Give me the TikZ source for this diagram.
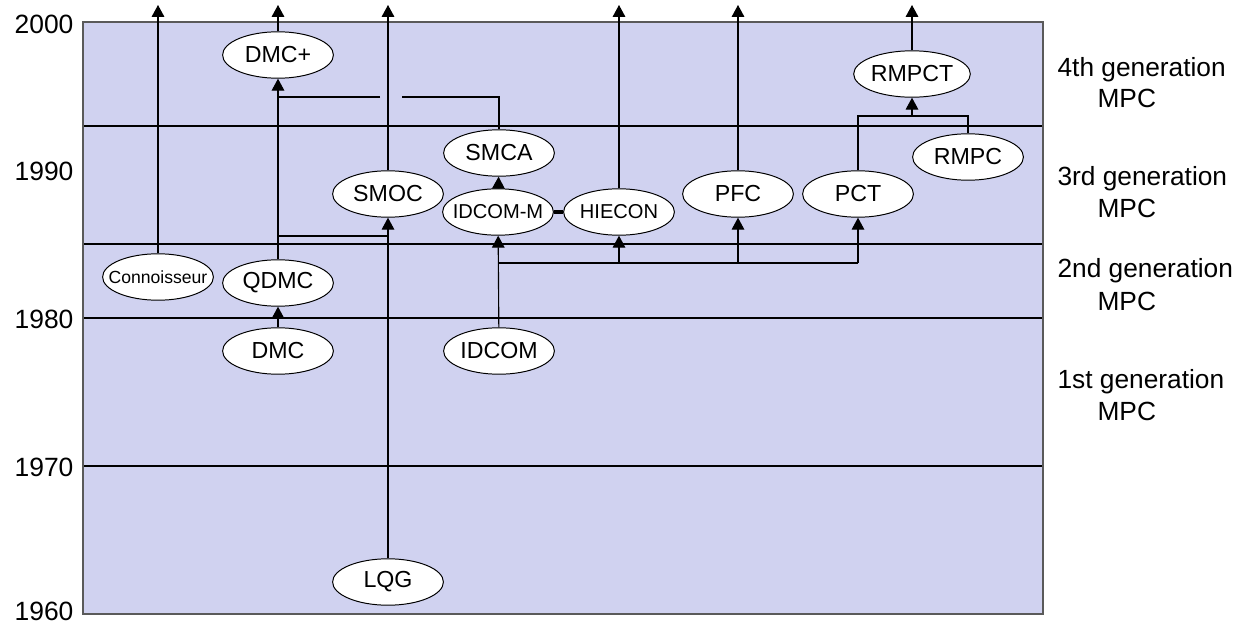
\documentclass[tikz,border=0pt]{standalone}
\usepackage{fontspec}
\setmainfont{Liberation Sans}
\usetikzlibrary{shapes.geometric,arrows.meta}

\definecolor{bandfill}{RGB}{208,210,240}
\definecolor{framegray}{RGB}{90,90,90}

\tikzset{
	algo/.style={ellipse,draw,fill=white,line width=0.7pt,inner sep=0pt,
		minimum width=2.77cm,minimum height=1.16cm,font=\fontsize{16.5}{18}\selectfont},
	smalltxt/.style={font=\fontsize{14.3}{16}\selectfont},
	uparrow/.style={-{Triangle[width=9pt,length=8.5pt]}},
	yearlbl/.style={anchor=base east,inner sep=0pt,font=\fontsize{18.8}{20}\selectfont},
	genlbl/.style={anchor=base west,inner sep=0pt,font=\fontsize{18.7}{20}\selectfont},
}
% keeps the ellipse at its minimum size for long labels
\newcommand{\narrow}[1]{\makebox[0pt]{#1}}

\begin{document}
\begin{tikzpicture}[x=0.025cm,y=-0.025cm,line width=0.8pt]
	\useasboundingbox (0,0) rectangle (1244,625);

	% time bands
	\fill[bandfill] (83,22) rectangle (1043,614);
	\foreach \yy in {126,244,318,466}
		\draw (83,\yy) -- (1043,\yy);
	\draw[framegray] (83,22) rectangle (1043,614);

	\foreach \yr/\yy in {2000/33,1990/180,1980/328,1970/476,1960/620}
		\node[yearlbl] (y\yr) at (74,\yy) {\yr};

	\node[genlbl] (g4) at (1057,76) {4th generation};
	\node[genlbl] (m4) at (1097,107) {MPC};
	\node[genlbl] (g3) at (1057,185) {3rd generation};
	\node[genlbl] (m3) at (1097,217) {MPC};
	\node[genlbl] (g2) at (1057,277) {2nd generation};
	\node[genlbl] (m2) at (1097,310) {MPC};
	\node[genlbl] (g1) at (1057,388) {1st generation};
	\node[genlbl] (m1) at (1097,420) {MPC};

	% algorithms
	\node[algo] (dmcplus) at (278,55) {DMC+};
	\node[algo] (rmpct) at (912,74) {RMPCT};
	\node[algo] (smca) at (499,153) {SMCA};
	\node[algo] (rmpc) at (968,157) {RMPC};
	\node[algo] (smoc) at (388,194) {SMOC};
	\node[algo] (pfc) at (738,194) {PFC};
	\node[algo] (pct) at (858,194) {PCT};
	\node[algo,smalltxt] (idcomm) at (498,212) {\narrow{IDCOM-M}};
	\node[algo,smalltxt] (hiecon) at (619,212) {\narrow{HIECON}};
	\node[algo,font=\fontsize{12.5}{14}\selectfont] (conn) at (158,277) {\narrow{Connoisseur}};
	\node[algo] (qdmc) at (278,283) {QDMC};
	\node[algo] (dmc) at (278,351) {DMC};
	\node[algo] (idcom) at (499,351) {IDCOM};
	\node[algo] (lqg) at (388,582) {LQG};

	\coordinate (out) at (0,5);
	\coordinate (hopL) at (380,97);
	\coordinate (hopR) at (402,97);
	\coordinate (bus) at (0,263);
	\coordinate (join) at (0,116);
	\coordinate (link) at (0,236);

	% still in use
	\foreach \n in {conn,dmcplus,smoc,hiecon,pfc,rmpct}
		\draw[uparrow] (\n.north) -- (\n.north |- out);

	\draw[uparrow] (dmc) -- (qdmc);
	\draw[uparrow] (qdmc) -- (dmcplus);
	\draw[uparrow] (lqg) -- (smoc);
	\draw (qdmc.north |- link) -- (smoc.south |- link);
	\draw (smca.north) |- (hopR);
	\draw (hopL) -- (qdmc.north |- hopL);

	\draw[uparrow] (idcomm) -- (smca);
	\draw[line width=2.5pt] (idcomm.east) -- (hiecon.west);
	\draw[uparrow] (idcom) -- (idcomm);
	\draw (idcom.north |- bus) -- (pct.south |- bus);
	\draw[uparrow] (hiecon.south |- bus) -- (hiecon.south);
	\draw[uparrow] (pfc.south |- bus) -- (pfc.south);
	\draw[uparrow] (pct.south |- bus) -- (pct.south);

	\draw (pct.north) |- (rmpc.north |- join) -- (rmpc.north);
	\draw[uparrow] (rmpct.south |- join) -- (rmpct.south);
\end{tikzpicture}
\end{document}
